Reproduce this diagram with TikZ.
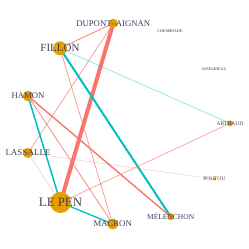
\documentclass[tikz,border=0pt]{standalone}
\usepackage{fontspec}
\setmainfont{Liberation Serif}
\definecolor{salmon}{HTML}{F8766D}
\definecolor{tealc}{HTML}{00BFC4}
\definecolor{gold}{HTML}{E69F00}
\definecolor{labc}{HTML}{3E3E60}
\tikzset{
  cand/.style={circle,fill=gold,inner sep=0pt,minimum size=#1},
  lab/.style={text=labc,inner sep=0pt,anchor=center},
  neg/.style={draw=salmon,line width=#1},
  pos/.style={draw=tealc,line width=#1},
}
\begin{document}
\begin{tikzpicture}[x=1pt,y=-1pt]
\useasboundingbox (0,0) rectangle (249,249);
% node positions
\coordinate (dup) at (113.3,23.3);
\coordinate (fil) at (60,48.3);
\coordinate (ham) at (28,96);
\coordinate (las) at (28,153);
\coordinate (lep) at (60.5,202.5);
\coordinate (mac) at (112.7,224);
\coordinate (mel) at (170.7,216.7);
\coordinate (art) at (230,123.3);
\coordinate (pou) at (214.3,179);
\coordinate (ass) at (214,69);
\coordinate (che) at (170,31);
% edges
\draw[neg=4pt,line cap=round] (dup) -- (lep);
\draw[neg=0.9pt,opacity=0.85] (dup) -- (fil);
\draw[neg=0.7pt,opacity=0.75] (dup) -- (las);
\draw[pos=2pt] (fil) -- (mel);
\draw[pos=0.6pt,opacity=0.5] (fil) -- (art);
\draw[neg=0.7pt,opacity=0.8] (fil) -- (mac);
\draw[pos=1.5pt] (ham) -- (lep);
\draw[neg=1.4pt] (ham) -- (mel);
\draw[neg=0.8pt,opacity=0.85] (ham) -- (mac);
\draw[neg=0.6pt,opacity=0.35] (las) -- (lep);
\draw[neg=0.6pt,opacity=0.35] (las) -- (pou);
\draw[pos=1.3pt] (lep) -- (mac);
\draw[neg=0.7pt,opacity=0.7] (lep) -- (art);
% nodes
\node[cand=9pt]  (ndup) at (dup) {};
\node[cand=14pt] (nfil) at (fil) {};
\node[cand=10.5pt] (nham) at (ham) {};
\node[cand=10pt] (nlas) at (las) {};
\node[cand=21pt] (nlep) at (lep) {};
\node[cand=11pt] (nmac) at (mac) {};
\node[cand=7pt] (nmel) at (mel) {};
\node[cand=6pt] (nart) at (art) {};
\node[cand=3pt] (npou) at (pou) {};
\node[cand=2pt] (nass) at (ass) {};
\node[cand=1.6pt] (nche) at (che) {};
% labels
\node[lab,font=\fontsize{8.7}{9}\selectfont] (ldup) at (dup) {DUPONT–AIGNAN};
\node[lab,font=\fontsize{11}{12}\selectfont] (lfil) at (fil) {FILLON};
\node[lab,font=\fontsize{8.7}{9}\selectfont] (lham) at (ham) {HAMON};
\node[lab,font=\fontsize{9}{10}\selectfont] (llas) at (las) {LASSALLE};
\node[lab,font=\fontsize{12.8}{13}\selectfont] (llep) at (lep) {LE PEN};
\node[lab,font=\fontsize{8.7}{9}\selectfont] (lmac) at (mac) {MACRON};
\node[lab,font=\fontsize{7.5}{8}\selectfont] (lmel) at (mel) {MÉLENCHON};
\node[lab,font=\fontsize{5.5}{6}\selectfont] (lart) at (art) {ARTHAUD};
\node[lab,font=\fontsize{5.4}{6}\selectfont] (lpou) at (pou) {POUTOU};
\node[lab,font=\fontsize{4.1}{5}\selectfont] (lass) at (ass) {ASSELINEAU};
\node[lab,font=\fontsize{4.2}{5}\selectfont] (lche) at (che) {CHEMINADE};
\end{tikzpicture}
\end{document}
